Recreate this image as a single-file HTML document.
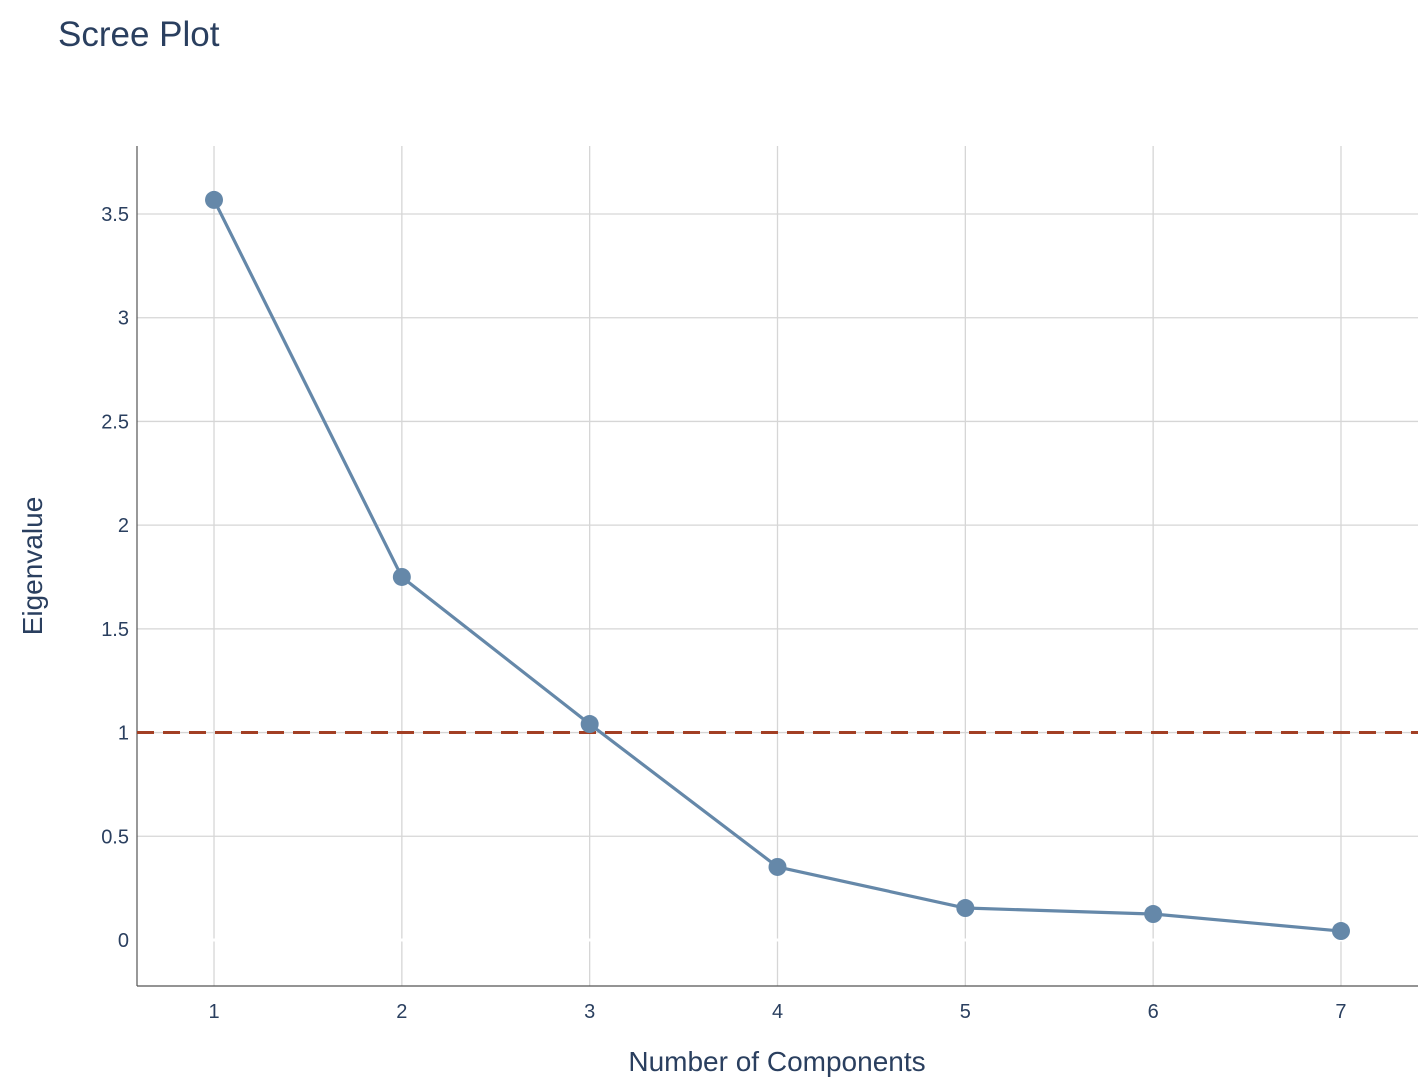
<!DOCTYPE html>
<html><head><meta charset="utf-8"><style>
html,body{margin:0;padding:0;background:#fff;}
svg{display:block;font-family:"Liberation Sans",Arial,sans-serif;}
</style></head><body>
<svg id="chart" width="1426" height="1088">
<text x="58" y="46" font-size="35" fill="#2a3f5f">Scree Plot</text>
<g id="grid"></g>
<g id="marks"></g>
<text x="777" y="1071" font-size="28" fill="#2a3f5f" text-anchor="middle">Number of Components</text>
<text transform="translate(42,566) rotate(-90)" font-size="28" fill="#2a3f5f" text-anchor="middle">Eigenvalue</text>
</svg>
<script>
const components = [1,2,3,4,5,6,7];
const eigenvalues = [3.568,1.750,1.041,0.352,0.154,0.125,0.043];
const yTicks = [0,0.5,1,1.5,2,2.5,3,3.5];
const yTickLabels = ["0","0.5","1","1.5","2","2.5","3","3.5"];
const threshold = 1;

const L=137,R=1418,T=146,B=986;
const xMin=0.59,xMax=7.41,yMin=-0.222,yMax=3.828;
const sx=v=>L+(v-xMin)/(xMax-xMin)*(R-L);
const sy=v=>B-(v-yMin)/(yMax-yMin)*(B-T);
const NS="http://www.w3.org/2000/svg";
function mk(tag,attrs,parent){const e=document.createElementNS(NS,tag);for(const k in attrs)e.setAttribute(k,attrs[k]);parent.appendChild(e);return e;}
const grid=document.getElementById('grid'),marks=document.getElementById('marks');

components.forEach(c=>{
  const l=mk('line',{x1:sx(c),x2:sx(c),y1:T,y2:B,stroke:'#d6d6d6','stroke-width':1.3},grid);
  
  
  const t=mk('text',{x:sx(c),y:B+32,'font-size':20,fill:'#2a3f5f','text-anchor':'middle'},grid);
  t.textContent=c;
  
  
});
yTicks.forEach((v,i)=>{
  if(v!==0){
    const l=mk('line',{x1:L,x2:R,y1:sy(v),y2:sy(v),stroke:'#d6d6d6','stroke-width':1.3},grid);
    
    
  }
  const t=mk('text',{x:L-8,y:sy(v)+7,'font-size':20,fill:'#2a3f5f','text-anchor':'end'},grid);
  t.textContent=yTickLabels[i];
  
  
});
const z=mk('line',{x1:L,x2:R,y1:sy(0),y2:sy(0),stroke:'#ffffff','stroke-width':3},grid);


const ax=mk('line',{x1:L,x2:L,y1:T,y2:B,stroke:'#555','stroke-width':1.2},grid);


const bx=mk('line',{x1:L,x2:R,y1:B,y2:B,stroke:'#555','stroke-width':1.2},grid);



const th=mk('line',{x1:L,x2:R,y1:sy(threshold),y2:sy(threshold),stroke:'#a23f24','stroke-width':3,'stroke-dasharray':'17,9'},marks);



const pts=components.map((c,i)=>sx(c)+','+sy(eigenvalues[i])).join(' ');
const pl=mk('polyline',{points:pts,fill:'none',stroke:'#6588a9','stroke-width':3.2,'stroke-linejoin':'round'},marks);


components.forEach((c,i)=>{
  const p=mk('circle',{cx:sx(c),cy:sy(eigenvalues[i]),r:9,fill:'#6588a9'},marks);
  
  
});
</script>
</body></html>
